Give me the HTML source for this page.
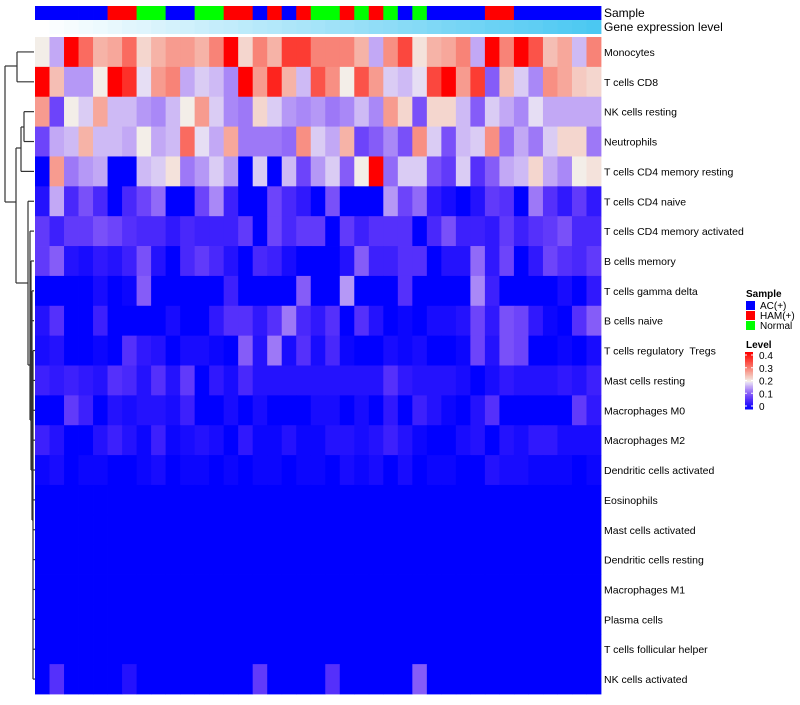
<!DOCTYPE html>
<html><head><meta charset="utf-8">
<style>
body{margin:0;background:#fff;}
svg text{font-family:"Liberation Sans",Arial,sans-serif;white-space:pre;}
</style></head>
<body>
<svg id="chart" width="800" height="700" xmlns="http://www.w3.org/2000/svg">
<g id="dendro" stroke="#333" stroke-width="1.2" fill="none"></g>
<g id="annot"></g>
<g id="cells"></g>
<g id="labels"></g>
<g id="legend"></g>
</svg>
<script>
const rowNames = ["Monocytes","T cells CD8","NK cells resting","Neutrophils","T cells CD4 memory resting","T cells CD4 naive","T cells CD4 memory activated","B cells memory","T cells gamma delta","B cells naive","T cells regulatory  Tregs","Mast cells resting","Macrophages M0","Macrophages M2","Dendritic cells activated","Eosinophils","Mast cells activated","Dendritic cells resting","Macrophages M1","Plasma cells","T cells follicular helper","NK cells activated"];
const sampleGroups = ["AC","AC","AC","AC","AC","HAM","HAM","Normal","Normal","AC","AC","Normal","Normal","HAM","HAM","AC","HAM","AC","HAM","Normal","Normal","HAM","Normal","HAM","Normal","AC","Normal","AC","AC","AC","AC","HAM","HAM","AC","AC","AC","AC","AC","AC"];
const geneLevel = [0,0.03,0.05,0.08,0.1,0.13,0.16,0.18,0.21,0.24,0.26,0.29,0.32,0.34,0.37,0.4,0.42,0.45,0.47,0.5,0.53,0.55,0.58,0.61,0.63,0.66,0.68,0.71,0.74,0.76,0.79,0.82,0.84,0.87,0.89,0.92,0.95,0.97,1];
const levelTicks = [0,0.1,0.2,0.3,0.4];
const v0 = [0.2,0.16,0.4,0.31,0.25,0.26,0.31,0.22,0.25,0.27,0.27,0.25,0.29,0.4,0.22,0.29,0.25,0.35,0.35,0.29,0.29,0.29,0.25,0.16,0.28,0.34,0.21,0.25,0.26,0.29,0.16,0.4,0.29,0.4,0.33,0.24,0.26,0.17,0.29];
const v1 = [0.4,0.24,0.15,0.15,0.2,0.4,0.36,0.19,0.27,0.29,0.16,0.18,0.17,0.14,0.4,0.27,0.37,0.25,0.17,0.33,0.28,0.2,0.33,0.27,0.18,0.17,0.19,0.34,0.4,0.27,0.35,0.11,0.24,0.18,0.14,0.28,0.26,0.23,0.22];
const v2 = [0.27,0.09,0.2,0.18,0.26,0.17,0.17,0.15,0.14,0.17,0.2,0.27,0.18,0.14,0.13,0.22,0.18,0.15,0.14,0.15,0.13,0.14,0.17,0.14,0.27,0.22,0.1,0.22,0.22,0.17,0.11,0.18,0.16,0.14,0.19,0.16,0.16,0.16,0.16];
const v3 = [0.09,0.16,0.17,0.25,0.17,0.17,0.16,0.2,0.16,0.17,0.31,0.19,0.16,0.26,0.13,0.13,0.13,0.12,0.28,0.18,0.16,0.25,0.09,0.11,0.14,0.1,0.28,0.18,0.1,0.17,0.18,0.28,0.12,0.16,0.13,0.18,0.22,0.22,0.13];
const v4 = [0,0.27,0.13,0.15,0.16,0,0,0.17,0.18,0.21,0.13,0.15,0.18,0.15,0,0.18,0,0.17,0.09,0.15,0.18,0.11,0.2,0.4,0.12,0.18,0.18,0.1,0.08,0.18,0.07,0.11,0.16,0.17,0.22,0.16,0.14,0.2,0.21];
const v5 = [0.03,0.16,0.06,0.1,0.06,0,0.06,0.09,0.12,0,0,0.09,0.14,0.05,0,0,0.09,0.06,0.04,0,0.1,0,0,0,0.15,0.09,0.12,0.04,0.02,0,0.03,0.08,0.07,0,0.13,0.07,0.04,0.08,0.04];
const v6 = [0.08,0.05,0.08,0.08,0.1,0.09,0.07,0.06,0.06,0.04,0.06,0.05,0.05,0.05,0.08,0,0.09,0.06,0.08,0.08,0,0.08,0.05,0.07,0.07,0.07,0,0.06,0.1,0.05,0.05,0.04,0.08,0.05,0.07,0.08,0.1,0.06,0.06];
const v7 = [0.08,0.11,0.03,0.02,0.04,0.03,0.05,0.1,0.03,0,0.06,0.08,0.06,0.03,0,0.06,0.05,0.02,0,0,0,0.03,0.11,0.05,0.05,0.07,0.07,0,0.03,0.03,0.12,0.04,0.09,0,0.04,0.09,0.07,0.06,0.08];
const v8 = [0,0,0,0,0.02,0,0.01,0.11,0,0,0,0,0,0.05,0,0,0,0,0.11,0,0,0.15,0,0,0,0.07,0,0,0,0,0.14,0.05,0,0,0,0,0.02,0,0.04];
const v9 = [0.03,0.07,0,0,0.05,0,0,0,0,0.02,0,0,0.04,0.07,0.07,0.04,0.07,0.13,0.06,0.04,0.07,0,0.07,0.03,0,0.01,0,0.02,0.02,0.03,0.09,0.04,0.1,0.09,0.04,0.01,0,0.07,0.11];
const v10 = [0.02,0.03,0,0,0.01,0,0.07,0.04,0.03,0,0.02,0.02,0.01,0,0.11,0.03,0.13,0.02,0.07,0.02,0.06,0.01,0,0,0.02,0.01,0.02,0,0,0.01,0.09,0.03,0.1,0.09,0,0,0.01,0,0.02];
const v11 = [0.05,0.04,0.05,0.04,0.03,0.07,0.06,0.03,0.07,0.03,0.08,0,0.04,0.02,0.06,0.03,0.03,0.03,0.03,0.03,0.03,0.03,0.03,0.03,0.07,0.04,0.03,0.03,0.03,0.02,0,0.02,0.04,0.03,0.03,0.03,0.04,0.03,0.05];
const v12 = [0,0,0.08,0.05,0,0.03,0.02,0.03,0.03,0.02,0.05,0,0,0.02,0,0.02,0,0,0,0.02,0.02,0,0.02,0,0.04,0,0.05,0.03,0.01,0,0.03,0.07,0,0,0,0,0,0.08,0.04];
const v13 = [0.05,0.03,0,0,0.03,0.05,0.03,0.01,0.05,0.01,0.02,0.03,0.02,0,0.04,0.01,0.01,0.03,0.01,0.01,0.03,0.03,0.02,0.03,0.05,0.03,0.01,0,0,0.02,0.03,0,0.03,0.02,0.04,0.04,0.02,0.02,0.02];
const v14 = [0.01,0.02,0,0.01,0.01,0,0,0.01,0.02,0,0.01,0.01,0,0.01,0,0.01,0.01,0,0.01,0.01,0,0.02,0.01,0.02,0,0.02,0,0.01,0.01,0,0,0.03,0.02,0.02,0.01,0.01,0.01,0,0.01];
const v15 = new Array(39).fill(0);
const v16 = new Array(39).fill(0);
const v17 = new Array(39).fill(0);
const v18 = new Array(39).fill(0);
const v19 = new Array(39).fill(0);
const v20 = new Array(39).fill(0);
const v21 = [0,0.07,0,0,0,0,0.03,0,0,0,0,0,0,0,0,0.08,0,0,0,0,0.07,0,0,0,0,0,0.11,0,0,0,0,0,0,0,0,0,0,0,0];
const values = [v0,v1,v2,v3,v4,v5,v6,v7,v8,v9,v10,v11,v12,v13,v14,v15,v16,v17,v18,v19,v20,v21];

const NS="http://www.w3.org/2000/svg";
const X0=35,X1=601,Y0=37,Y1=694;
const nCol=sampleGroups.length,nRow=rowNames.length;
const cw=(X1-X0)/nCol, rh=(Y1-Y0)/nRow;
const xPos=i=>X0+i*cw;
const yPos=r=>Y0+r*rh;
const groupColor={AC:"#0000ff",HAM:"#ff0000",Normal:"#00ff00"};
function colorOf(v){
  let t=Math.max(0,Math.min(1,v/0.4));
  let r,g,b;
  if(t<0.5){const s=t*2;r=242*s;g=240*s-40*Math.sin(Math.PI*s);b=255-12*s;}
  else{const u=(t-0.5)*2;r=243+12*u;g=238*(1-u);b=232*(1-u)*(1-0.15*u);}
  return `rgb(${Math.round(r)},${Math.round(Math.max(0,g))},${Math.round(b)})`;
}
function mk(tag,attrs,parent){const e=document.createElementNS(NS,tag);for(const k in attrs)e.setAttribute(k,attrs[k]);parent.appendChild(e);return e;}

const cells=document.getElementById('cells');
for(let r=0;r<nRow;r++){for(let c=0;c<nCol;c++){
  const e=mk('rect',{x:xPos(c),y:yPos(r),width:cw+0.4,height:rh+0.4,fill:colorOf(values[r][c])},cells);
  
  
}}
const annot=document.getElementById('annot');
for(let c=0;c<nCol;c++){
  const e=mk('rect',{x:xPos(c),y:6,width:cw+0.4,height:14,fill:groupColor[sampleGroups[c]]},annot);
  
  
  const g=geneLevel[c];
  const e2=mk('rect',{x:xPos(c),y:20,width:cw+0.4,height:14,fill:`rgb(${Math.round(255-180*g)},${Math.round(255-55*g)},${Math.round(255-13*g)})`},annot);
  
  
}
const labels=document.getElementById('labels');
const t1=mk('text',{x:604,y:17,'font-size':12},labels);t1.textContent="Sample";


const t2=mk('text',{x:604,y:31,'font-size':12},labels);t2.textContent="Gene expression level";


for(let r=0;r<nRow;r++){
  const t=mk('text',{x:604,y:yPos(r)+rh/2+4,'font-size':10.5,fill:'#000'},labels);
  t.textContent=rowNames[r];
  
  
}
const dendro=document.getElementById('dendro');
const yc=r=>yPos(r)+rh/2;
const segs=[
 [17,yc(0),17,yc(1)],[17,yc(0),34,yc(0)],[17,yc(1),34,yc(1)],
 [5,66,17,66],[5,66,5,202],[5,202,16,202],
 [16,148,16,283],[16,148,21,148],[21,127,21,yc(4)],[21,yc(4),34,yc(4)],
 [21,127,24,127],[24,yc(2),24,yc(3)],[24,yc(2),34,yc(2)],[24,yc(3),34,yc(3)],
 [16,283,28,283],[28,yc(5),28,365],[28,yc(5),34,yc(5)],[28,365,30,365],
 [30,yc(6),30,420],[30,yc(6),34,yc(6)],[30,420,31,420],
 [31,yc(7),31,470],[31,yc(7),34,yc(7)],[31,470,32,470],
 [32,yc(8),32,520],[32,yc(9),34,yc(9)],[32,yc(8),34,yc(8)],[32,520,33,520],
 [33,yc(10),33,yc(21)]
];
for(let r=10;r<nRow;r++)segs.push([33,yc(r),35,yc(r)]);
for(const s of segs){const l=mk('line',{x1:s[0],y1:s[1],x2:s[2],y2:s[3]},dendro);
  
  }
const lg=document.getElementById('legend');
const lt=mk('text',{x:746,y:297,'font-size':10,'font-weight':'bold'},lg);lt.textContent="Sample";


const groups=["AC","HAM","Normal"],glabels=["AC(+)","HAM(+)","Normal"];
groups.forEach((g,i)=>{
  const r=mk('rect',{x:746,y:301+i*10,width:9,height:9,fill:groupColor[g]},lg);
  
  
  const t=mk('text',{x:760,y:309+i*10,'font-size':10},lg);t.textContent=glabels[i];
  
  
});
const lv=mk('text',{x:746,y:348,'font-size':10,'font-weight':'bold'},lg);lv.textContent="Level";


const cbTop=352,cbBot=409;
for(let k=0;k<40;k++){
  const v=0.4*(1-k/40);
  const r=mk('rect',{x:745,y:cbTop+k*(cbBot-cbTop)/40,width:8,height:(cbBot-cbTop)/40+0.5,fill:colorOf(v)},lg);
  
  
}
levelTicks.forEach(v=>{
  const y=cbBot-3-(v/0.4)*(cbBot-cbTop-6);
  const l=mk('line',{x1:745,x2:747,y1:y,y2:y,stroke:'#fff'},lg);
  
  
  const l2=mk('line',{x1:751,x2:753,y1:y,y2:y,stroke:'#fff'},lg);
  
  
  const t=mk('text',{x:759,y:y+4,'font-size':10},lg);t.textContent=String(v);
  
  
});
</script>
</body></html>
